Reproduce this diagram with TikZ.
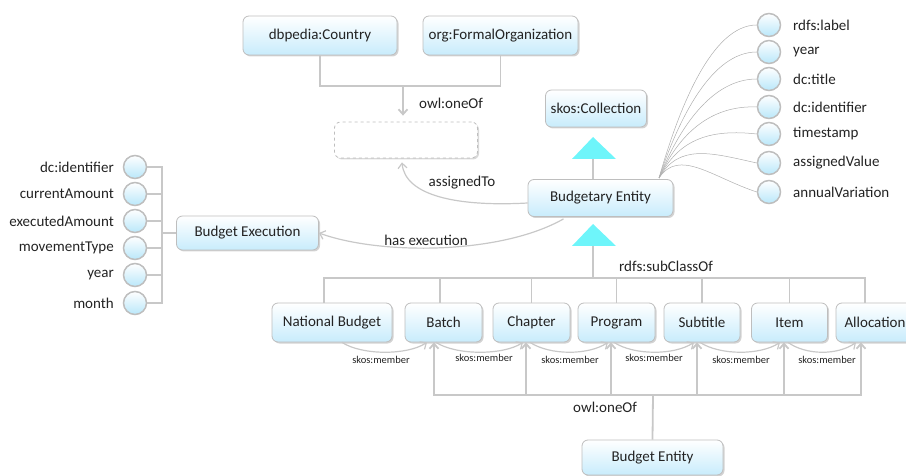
\documentclass[tikz,border=0pt]{standalone}
\usepackage{fontspec}
\setmainfont{Carlito}
\usetikzlibrary{arrows.meta,shadows,calc}
\definecolor{boxline}{RGB}{190,190,190}
\definecolor{boxfill}{RGB}{200,236,252}
\definecolor{circfill}{RGB}{185,232,250}
\definecolor{connc}{RGB}{200,200,200}
\definecolor{fanc}{RGB}{175,175,175}
\definecolor{tric}{RGB}{110,245,250}
\definecolor{txt}{RGB}{35,35,35}
\begin{document}
\begin{tikzpicture}[x=1pt,y=-1pt,
  box/.style={draw=boxline, line width=0.8pt, rounded corners=6pt, top color=white, bottom color=boxfill,
    drop shadow={shadow xshift=1.5pt, shadow yshift=-1.5pt, opacity=0.35, fill=gray},
    text=txt, font=\fontsize{15}{18}\selectfont, inner sep=2pt, minimum height=39pt},
  blankbox/.style={draw=boxline, dashed, line width=0.8pt, rounded corners=6pt, fill=white,
    drop shadow={shadow xshift=1.5pt, shadow yshift=-1.5pt, opacity=0.3, fill=gray}},
  prop/.style={circle, draw=boxline, line width=1.5pt, top color=white, bottom color=circfill, minimum size=23pt, inner sep=0pt},
  lbl/.style={text=txt, font=\fontsize{15}{18}\selectfont, inner sep=0pt},
  small/.style={text=txt, font=\fontsize{10.5}{12}\selectfont, inner sep=0pt},
  conn/.style={draw=connc, line width=1.8pt},
  conntwo/.style={draw=connc, line width=1.2pt},
  fan/.style={draw=fanc, line width=0.5pt},
  barb/.style={-{Straight Barb[length=5pt,width=9pt]}}
]
\useasboundingbox (0,0) rectangle (906,476);
\clip (0,0) rectangle (906,476);

% top nodes
\node[box, minimum width=154pt] (country) at (320,35.5) {dbpedia:Country};
\node[box, minimum width=155pt] (formal) at (500.5,35.5) {org:FormalOrganization};
\node[blankbox, minimum width=143pt, minimum height=36pt] (blank) at (406,140) {};
\node[box, minimum width=101pt, minimum height=37pt] (coll) at (596,108.5) {skos:Collection};
\node[box, minimum width=145pt, minimum height=37pt] (budgetary) at (600.5,198) {Budgetary Entity};
\node[box, minimum width=142pt, minimum height=34pt] (exec) at (247.5,233) {Budget Execution};

% children
\node[box, minimum width=120pt] (national) at (332,322.5) {National Budget};
\node[box, minimum width=77pt] (batch) at (443.5,322.5) {Batch};
\node[box, minimum width=77pt] (chapter) at (531.5,322.5) {Chapter};
\node[box, minimum width=77pt] (program) at (616.5,322.5) {Program};
\node[box, minimum width=76pt] (subtitle) at (702,322.5) {Subtitle};
\node[box, minimum width=76pt] (item) at (789.5,322.5) {Item};
\node[box, minimum width=78pt] (allocation) at (875,322.5) {Allocation};
\node[box, minimum width=141pt, minimum height=35pt] (bentity) at (652.5,457.5) {Budget Entity};

% owl:oneOf (top)
\coordinate (ohub) at (403,86);
\draw[conn] (country.south) |- (ohub);
\draw[conn] (formal.south) |- (ohub);
\draw[conn, barb, shorten >=6pt] (ohub) -- (ohub |- blank.north);
\node[lbl, anchor=west] (oneoftop) at (419,103) {owl:oneOf};

% skos:Collection triangle
\fill[tric] (572,159) -- (593,137) -- (616,159) -- cycle;
\coordinate (t1) at (593,159);
\draw[conntwo] (t1) -- (t1 |- budgetary.north);

% subclass triangle and tree
\fill[tric] (572,246) -- (593,224) -- (616,246) -- cycle;
\coordinate (t2) at (593,246);
\coordinate (hub) at (593,278);
\draw[conntwo] (t2) -- (hub);
\draw[conn] (hub) -| ([xshift=-8pt]national.north);
\draw[conn] (hub) -| ([xshift=-3.5pt]batch.north);
\draw[conn] (hub) -| (chapter.north);
\draw[conn] (hub) -| (program.north);
\draw[conn] (hub) -| (subtitle.north);
\draw[conn] (hub) -| (item.north);
\draw[conn] (hub) -| ([xshift=-10pt]allocation.north);
\node[lbl, anchor=west] (subcl) at (619,266) {rdfs:subClassOf};

% owl:oneOf (bottom)
\coordinate (bhub) at (653,395);
\draw[conn] (bentity.north) -- (bhub);
\draw[conn, barb] (bhub) -| ([xshift=-9.5pt]batch.south);
\draw[conn, barb] (bhub) -| ([xshift=-5.5pt]chapter.south);
\draw[conn, barb] (bhub) -| ([xshift=-5.5pt]program.south);
\draw[conn, barb] (bhub) -| ([xshift=-5pt]subtitle.south);
\draw[conn, barb] (bhub) -| ([xshift=-5.5pt]item.south);
\draw[conn, barb] (bhub) -| ([xshift=-14pt]allocation.south);
\node[lbl, anchor=west] (oneofbot) at (573,407) {owl:oneOf};

% skos:member curves
\draw[conntwo, barb] ([xshift=10pt]national.south) .. controls +(20,13) and +(-20,13) .. ([xshift=-16.5pt]batch.south);
\draw[conntwo, barb] ([xshift=-7.5pt]batch.south) .. controls +(20,13) and +(-20,13) .. ([xshift=-8.5pt]chapter.south);
\draw[conntwo, barb] ([xshift=-1.5pt]chapter.south) .. controls +(20,13) and +(-20,13) .. ([xshift=-8.5pt]program.south);
\draw[conntwo, barb] ([xshift=-2.5pt]program.south) .. controls +(20,13) and +(-20,13) .. ([xshift=-8pt]subtitle.south);
\draw[conntwo, barb] ([xshift=-2pt]subtitle.south) .. controls +(20,13) and +(-20,13) .. ([xshift=-9.5pt]item.south);
\draw[conntwo, barb] ([xshift=-1.5pt]item.south) .. controls +(18,13) and +(-18,13) .. ([xshift=-19pt]allocation.south);
\node[small] (m1) at (381,360) {skos:member};
\node[small] (m2) at (484,358) {skos:member};
\node[small] (m3) at (570,360) {skos:member};
\node[small] (m4) at (654,358) {skos:member};
\node[small] (m5) at (741,360) {skos:member};
\node[small] (m6) at (827,360) {skos:member};

% assignedTo and has execution
\draw[conntwo, barb] ($(budgetary.west)+(0,5)$) .. controls (455,207) and (405,195) .. ($(blank.south)+(-4,4)$);
\node[lbl] (assg) at (462,183) {assignedTo};
\draw[conntwo, barb] ($(budgetary.south)+(-37,2)$) .. controls (500,255) and (380,255) .. (exec.east);
\node[lbl] (hasex) at (426,240) {has execution};

% left properties
\coordinate (lbus) at (162,233);
\foreach \n/\yy/\t in {l1/167/dc:identifier, l2/194/currentAmount, l3/221/executedAmount, l4/248/movementType, l5/275/year, l6/303/month}{
  \node[prop] (\n) at (135,\yy) {};
  \node[lbl, anchor=east] (\n t) at (114,\yy) {\t};
  \draw[conntwo] (\n.east) -| (lbus);
}
\draw[conntwo] (lbus) -- (exec.west);

% right properties
\coordinate (fanst) at (659,178);
\foreach \n/\yy/\t/\ca/\cb in {r1/25/rdfs:label/-70/0, r2/52/year/-60/0, r3/79/dc:title/-50/0, r4/107/dc:identifier/-45/-2, r5/134/timestamp/-40/-5, r6/163/assignedValue/-35/-10, r7/192/annualVariation/-30/-15}{
  \node[prop] (\n) at (769,\yy) {};
  \node[lbl, anchor=west] (\n t) at (793,\yy) {\t};
  \draw[fan] (fanst) .. controls +(20,\ca) and +(-45,\cb) .. (\n.west);
}
\end{tikzpicture}
\end{document}
